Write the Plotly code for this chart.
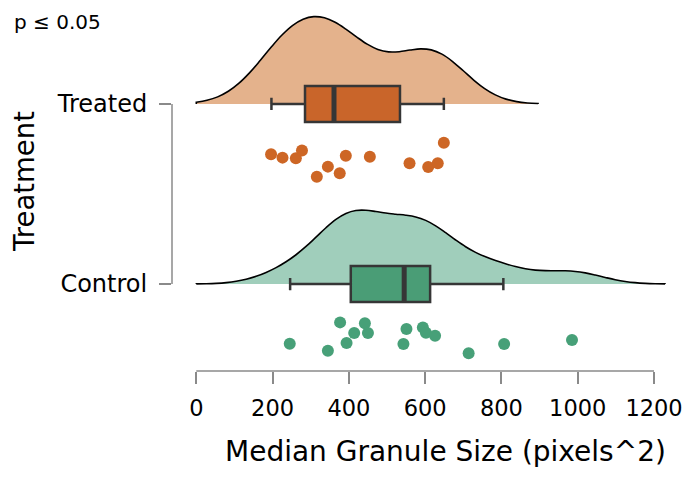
import plotly.graph_objects as go

# values
groups = ["Control", "Treated"]
positions = [0, 1]

treated_values = [196, 226, 261, 277, 316, 345, 376, 392, 455, 559, 608, 633, 649]
treated_jitter = [0.721, 0.702, 0.698, 0.741, 0.596, 0.652, 0.615, 0.713, 0.707, 0.671, 0.650, 0.671, 0.785]
control_values = [245, 345, 377, 394, 414, 442, 450, 543, 551, 594, 602, 626, 714, 807, 985]
control_jitter = [-0.332, -0.371, -0.213, -0.328, -0.272, -0.218, -0.272, -0.333, -0.250, -0.241, -0.271, -0.287, -0.385, -0.333, -0.311]

# box stats (lower whisker, q1, median, q3, upper whisker)
treated_box = [197, 285, 361, 534, 649]
control_box = [246, 405, 545, 613, 805]

# density extent
treated_span = [0, 896]
control_span = [0, 1229]

x_ticks = [0, 200, 400, 600, 800, 1000, 1200]

series = [
    dict(name="Treated", pos=1, vals=treated_values, jit=treated_jitter, box=treated_box,
         span=treated_span, bw=86, width=0.97,
         light="#E4B28C", dark="#C9652A", point="#CD6625"),
    dict(name="Control", pos=0, vals=control_values, jit=control_jitter, box=control_box,
         span=control_span, bw=80, width=0.82,
         light="#A0CEBB", dark="#4A9D76", point="#47A078"),
]

fig = go.Figure()

for s in series:
    # half violin (the cloud)
    fig.add_trace(go.Violin(
        x=s["vals"], y0=s["pos"], orientation="h", side="positive",
        bandwidth=s["bw"], spanmode="manual", span=s["span"],
        width=s["width"], scalegroup=s["name"], points=False,
        fillcolor=s["light"], line=dict(color="black", width=1.6),
        opacity=1, showlegend=False, hoverinfo="skip",
    ))
    # box
    lo, q1, med, q3, hi = s["box"]
    fig.add_trace(go.Box(
        y=[s["pos"]], q1=[q1], median=[med], q3=[q3],
        lowerfence=[lo], upperfence=[hi], orientation="h",
        width=0.2, whiskerwidth=0.34, boxpoints=False,
        fillcolor=s["dark"], line=dict(color="#363636", width=2.5),
        showlegend=False, hoverinfo="skip",
    ))
    # thicker median bar
    fig.add_trace(go.Scatter(
        x=[med, med], y=[s["pos"] - 0.1, s["pos"] + 0.1], mode="lines",
        line=dict(color="#363636", width=5), showlegend=False, hoverinfo="skip",
    ))
    # rain (points)
    fig.add_trace(go.Scatter(
        x=s["vals"], y=s["jit"], mode="markers",
        marker=dict(color=s["point"], size=12, line=dict(width=0)),
        showlegend=False, hoverinfo="skip",
    ))

font = "DejaVu Sans"

# the page adds an 8px body margin, so the figure is offset by 8px
fig.update_layout(
    width=695, height=478,
    margin=dict(l=164, r=28, t=0, b=115),
    plot_bgcolor="white", paper_bgcolor="white",
    font=dict(family=font, color="black", size=22),
    xaxis=dict(range=[-63.7, 1255], tickvals=x_ticks, ticks="outside", ticklen=12,
               tickcolor="#8a8a8a", tickwidth=1.5, showline=False, showgrid=False,
               zeroline=False, tickfont=dict(size=22.5), ticklabelstandoff=5),
    yaxis=dict(range=[-0.483, 1.533], tickvals=positions, ticktext=groups,
               ticks="outside", ticklen=12, tickcolor="#8a8a8a", tickwidth=1.5,
               ticklabelstandoff=7, showline=False, showgrid=False, zeroline=False,
               tickfont=dict(size=24)),
    shapes=[
        dict(type="line", xref="x", yref="paper", x0=x_ticks[0], x1=x_ticks[-1], y0=0, y1=0,
             line=dict(color="#8a8a8a", width=1.5)),
        dict(type="line", xref="paper", yref="y", x0=0, x1=0, y0=positions[0], y1=positions[-1],
             line=dict(color="#8a8a8a", width=1.5)),
    ],
    annotations=[
        dict(text="Median Granule Size (pixels^2)", xref="paper", yref="paper",
             x=0.543, y=-0.223, xanchor="center", yanchor="middle",
             showarrow=False, font=dict(size=28)),
        dict(text="Treatment", xref="paper", yref="paper", x=-0.294, y=0.521,
             xanchor="center", yanchor="middle",
             textangle=-90, showarrow=False, font=dict(size=27.5)),
        dict(text="p ≤ 0.05", xref="paper", yref="paper", x=-0.318, y=0.962,
             xanchor="left", yanchor="middle", showarrow=False, font=dict(size=20)),
    ],
)

fig.write_html("out.html")
